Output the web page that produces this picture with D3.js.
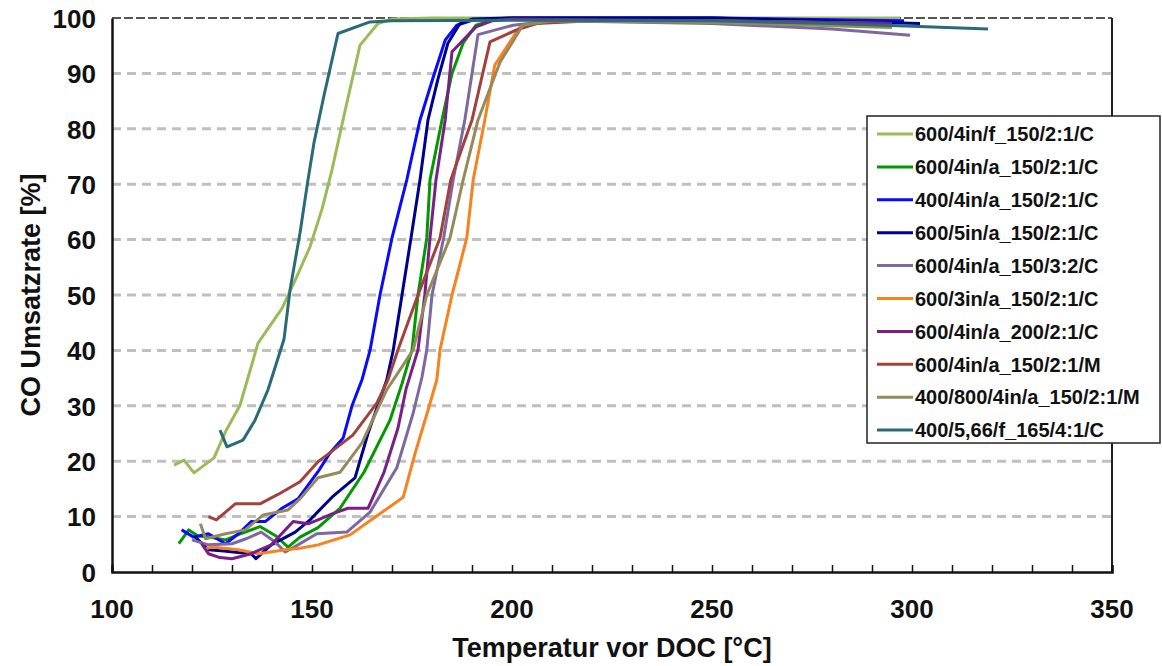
<!DOCTYPE html>
<html>
<head>
<meta charset="utf-8">
<script src="https://cdn.jsdelivr.net/npm/d3@7"></script>
<style>
  html, body { margin: 0; padding: 0; background: #fff; }
  svg text { font-family: "Liberation Sans", Arial, sans-serif; font-weight: bold; fill: #111; }
</style>
</head>
<body>
<svg id="chart" width="1162" height="666"></svg>
<script>
// Series data: [temperature °C, CO conversion %]
const f600_4in_f = [[115.5,19.3],[118,20.2],[120.5,17.9],[125.5,20.6],[128.5,25.5],[132,30.1],[136.5,41.3],[142.5,47.6],[146,53],[149.5,58.7],[152.5,65.5],[155,72.6],[158.5,84],[162,95.1],[166.5,99],[170,99.8],[180,100],[200,100],[250,100],[297,100]];
const f600_4in_a = [[116.7,5.1],[119.2,7.6],[121.5,6.5],[124.1,6.3],[128.4,5.8],[132.5,7],[137,8.2],[141,6.5],[144,4.5],[147,6.3],[151.5,8],[157,11.5],[163,18],[169.5,27.4],[172.5,34],[175,40.1],[176.5,50],[178.7,60.3],[179.5,70.8],[182.5,81.6],[185,90],[187.8,95.5],[191,98.7],[195,99.6],[200,100],[250,100],[296,99.3]];
const f400_4in_a = [[117.4,7.6],[120.4,6.3],[124.1,6.9],[128.4,5.1],[131.6,6.9],[134.8,9.1],[138.3,9.1],[142.5,11.5],[146.5,13.2],[151.5,18.1],[154.5,21.5],[157.8,24.2],[160,30],[162.5,34.7],[164.5,40],[167,50],[170,60.3],[173.7,70.8],[177,81.6],[180.3,89.3],[183.3,96],[186.2,98.7],[190,99.6],[200,100],[250,100],[298,99.5]];
const f600_5in_a = [[120.5,6.5],[122,5.5],[124.1,4],[128,3.8],[131.5,3.5],[134.8,3.3],[136,2.4],[139.8,4.9],[145.8,7.2],[149.5,9.4],[151.5,10.9],[155,13.5],[160.75,17],[164,25],[168.7,34.7],[170.3,40],[172.5,50],[174.75,60.3],[177,70.8],[179,81.6],[181.5,89],[184,95.5],[187,99],[190,99.8],[200,100],[250,100],[302,99]];
const f600_4in_a_32 = [[120,5.8],[124.1,4.9],[130,5.1],[133.5,6],[137.3,7.2],[140.8,5.4],[143.3,3.6],[146.5,4.9],[151.2,6.9],[158.7,7.2],[164.5,10.8],[171.2,18.8],[175.3,28.7],[177.5,35.2],[178.7,40.1],[180,50],[182.9,60.3],[185.3,70.8],[188.2,81.6],[190,90],[191.5,97],[200.3,98.7],[210,99.5],[250,99],[280,98],[299.5,96.9]];
const f600_3in_a = [[123.4,4.2],[125,4.5],[131.6,4],[136.6,3.3],[143.3,4],[147,4.3],[151.5,4.9],[159.5,6.7],[166,10],[172.8,13.5],[175.8,21.5],[179,29.2],[181.2,34.7],[182,40.1],[185,50],[188.7,60.3],[190.3,70.8],[193.2,81.6],[195.7,91.5],[202,98.4],[210,99.5],[250,99.5],[295,99]];
const f600_4in_a_200 = [[122.4,5.1],[124.1,3.3],[127,2.6],[130,2.4],[134.8,3.3],[139.8,4.9],[145.3,9.1],[149,8.7],[151.5,9.4],[155,10.5],[159,11.5],[164,11.5],[168,18],[171.5,26],[173.5,33],[176.5,40.1],[178.2,50],[179.5,60.3],[181,70.8],[183.3,81.6],[185,93.9],[191,98.4],[195,99.5],[200,99.8],[250,99.5],[295,99]];
const f600_4in_a_M = [[124.1,10],[126.1,9.4],[130.8,12.3],[137,12.3],[141.5,14],[147,16.3],[151.5,19.9],[153.7,21.1],[160.2,24.7],[166.2,30.5],[169,34.7],[171.5,40.1],[176.5,50],[182,60.3],[184.7,70.8],[190,81.6],[194.5,95.7],[201,97.8],[206.2,99],[220,99.5],[250,99.3],[295,98.5]];
const f400_800_4in_a_M = [[122.1,8.7],[123.4,6],[128.4,6.9],[133.3,7.6],[137.8,10.3],[144,11.2],[147,13.2],[151.5,17],[157,18],[162.5,23.3],[168.7,32.9],[175.3,40.1],[178.7,50],[184.5,60.3],[187.8,70.8],[191.5,81.6],[197,92],[202.7,98.7],[210,99.5],[250,99.2],[295,98.3]];
const f400_566_f = [[127,25.6],[128.75,22.6],[132.75,23.8],[135.75,27.4],[139,32.9],[143,42],[144.5,50.9],[147,61.2],[149,70.8],[150.5,77.5],[153,86],[156.5,97.2],[164.5,99.3],[170,99.5],[200,99.6],[250,99.5],[280,99],[300,98.5],[319,98]];

const seriesLabels = ["600/4in/f_150/2:1/C", "600/4in/a_150/2:1/C", "400/4in/a_150/2:1/C", "600/5in/a_150/2:1/C",
  "600/4in/a_150/3:2/C", "600/3in/a_150/2:1/C", "600/4in/a_200/2:1/C", "600/4in/a_150/2:1/M",
  "400/800/4in/a_150/2:1/M", "400/5,66/f_165/4:1/C"];
const seriesData = [f600_4in_f, f600_4in_a, f400_4in_a, f600_5in_a, f600_4in_a_32, f600_3in_a,
  f600_4in_a_200, f600_4in_a_M, f400_800_4in_a_M, f400_566_f];
const seriesColors = ["#9bbb59", "#009a00", "#0a0aff", "#000090", "#7d68a0", "#f7821e",
  "#7a1f85", "#a3423c", "#958b5a", "#2b6b78"];

const xTicks = d3.range(100, 351, 10);
const xLabels = [100, 150, 200, 250, 300, 350];
const yTicks = d3.range(0, 101, 10);

// Layout
const margin = { left: 112, right: 50, top: 18, bottom: 94 };
const width = 1162, height = 666;

const svg = d3.select('#chart');

const x = d3.scaleLinear().domain([100, 350]).range([margin.left, width - margin.right]);
const y = d3.scaleLinear().domain([0, 100]).range([height - margin.bottom, margin.top]);

// Gridlines
svg.append('g')
    .selectAll('line')
    .data(yTicks.filter(d => d > 0 && d < 100))
    .enter().append('line')
    .attr('x1', x(100)).attr('x2', x(350))
    .attr('y1', d => y(d)).attr('y2', d => y(d))
    .attr('stroke', '#c0c0c0')
    .attr('stroke-width', 3)
    .attr('stroke-dasharray', '9,6');

// Top dashed border
svg.append('line')
    .attr('x1', x(100)).attr('x2', x(350))
    .attr('y1', y(100)).attr('y2', y(100))
    .attr('stroke', '#555')
    .attr('stroke-width', 2)
    .attr('stroke-dasharray', '9,3');

// Right border
svg.append('line')
    .attr('x1', x(350)).attr('x2', x(350))
    .attr('y1', y(100)).attr('y2', y(0))
    .attr('stroke', '#222')
    .attr('stroke-width', 2);

// Series lines
const line = d3.line()
    .x(d => x(d[0]))
    .y(d => y(d[1]));

svg.append('g')
    .selectAll('path')
    .data(seriesData)
    .enter().append('path')
    .attr('d', d => line(d))
    .attr('fill', 'none')
    .attr('stroke', (d, i) => seriesColors[i])
    .attr('stroke-width', 3)
    .attr('stroke-linejoin', 'round');

// X axis
const xAxis = svg.append('g')
    .attr('transform', `translate(0,${y(0)})`)
    .call(d3.axisBottom(x).tickValues(xTicks).tickSize(-7).tickFormat(''));
xAxis.select('.domain').attr('stroke', '#111').attr('stroke-width', 2.5);
xAxis.selectAll('.tick line').attr('stroke', '#111').attr('stroke-width', 1.5);

svg.append('g')
    .selectAll('text')
    .data(xLabels)
    .enter().append('text')
    .attr('x', d => x(d))
    .attr('y', 618)
    .attr('text-anchor', 'middle')
    .style('font-size', '26px')
    .text(d => d);

// Y axis
const yAxis = svg.append('g')
    .attr('transform', `translate(${x(100)},0)`)
    .call(d3.axisLeft(y).tickValues(yTicks).tickSize(0).tickPadding(16));
yAxis.select('.domain').attr('stroke', '#111').attr('stroke-width', 2.5);
yAxis.selectAll('.tick text')
    .style('font-size', '26px')
    .attr('dy', '0.36em');

// Axis titles
svg.append('text')
    .attr('x', (x(100) + x(350)) / 2)
    .attr('y', 657)
    .attr('text-anchor', 'middle')
    .style('font-size', '27px')
    .text('Temperatur vor DOC [°C]');

svg.append('text')
    .attr('transform', `translate(40,${(y(0) + y(100)) / 2}) rotate(-90)`)
    .attr('text-anchor', 'middle')
    .style('font-size', '27px')
    .text('CO Umsatzrate [%]');

// Legend
const legend = svg.append('g').attr('transform', 'translate(867,116)');
legend.append('rect')
    .attr('width', 293)
    .attr('height', 327)
    .attr('fill', '#fff')
    .attr('stroke', '#222')
    .attr('stroke-width', 1.5);

const item = legend.selectAll('g.item')
    .data(seriesLabels)
    .enter().append('g')
    .attr('class', 'item')
    .attr('transform', (d, i) => `translate(0,${18 + i * 32.9})`);

item.append('line')
    .attr('x1', 10).attr('x2', 46)
    .attr('stroke', (d, i) => seriesColors[i])
    .attr('stroke-width', 3);

item.append('text')
    .attr('x', 48)
    .attr('dy', '0.36em')
    .style('font-size', '20px')
    .text(d => d);
</script>
</body>
</html>
